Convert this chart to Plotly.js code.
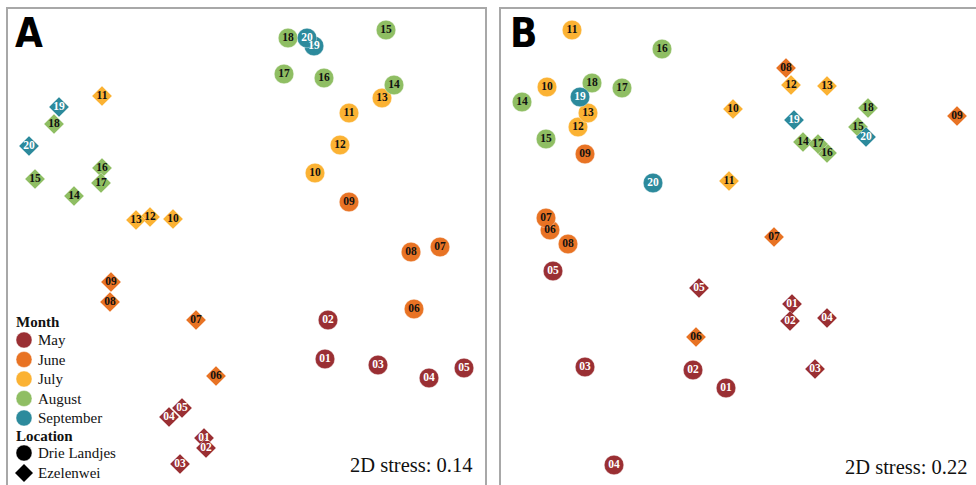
<!DOCTYPE html>
<html>
<head>
<meta charset="utf-8">
<script src="https://cdn.plot.ly/plotly-3.0.1.min.js"></script>
<style>html,body{margin:0;padding:0;background:#fff;}#chart{width:976px;height:485px;}</style>
</head>
<body>
<div id="chart"></div>
<script>
// ---- Data (NMDS ordination, arbitrary units) ----
const monthNames = ["May", "June", "July", "August", "September"];
const monthColors = ["#9a2f33", "#e87324", "#fbb233", "#8fbe63", "#2c8a9c"];
const labelColors = ["#ffffff", "#111111", "#111111", "#111111", "#ffffff"];
const locationNames = ["Drie Landjes", "Ezelenwei"];
const locationSymbols = ["circle", "diamond"];

const samples = ["01","02","03","04","05","06","07","08","09","10","11","12","13","14","15","16","17","18","19","20"];
const sampleMonth = [0,0,0,0,0,1,1,1,1,2,2,2,2,3,3,3,3,3,4,4];

// Panel A (2D stress 0.14)
const aDrieX = [325,328,378,429,464,414,440,411,349,315,349,340,382,394,386,324,284,288,314,307];
const aDrieY = [126,165,120,107,117,176,238,233,283,312,372,340,387,400,455,407,411,447,439,447];
const aEzelX = [204,206,180,169,182,216,196,110,111,173,102,150,136,74,35,102,101,54,59,29];
const aEzelY = [47,37,21,68,77,109,165,183,203,266,389,268,265,289,306,317,302,361,378,339];

// Panel B (2D stress 0.22)
const bDrieX = [726,693,585,614,553,550,546,568,585,547,572,578,588,522,546,662,622,592,580,653];
const bDrieY = [97,115,118,20,214,255,267,241,331,398,455,358,372,383,346,436,397,402,388,302];
const bEzelX = [792,790,815,827,699,696,774,786,957,733,729,791,827,803,858,827,818,868,794,866];
const bEzelY = [181,164,116,167,197,148,248,417,369,376,304,400,399,343,358,332,341,377,365,348];

const stressA = "2D stress: 0.14";
const stressB = "2D stress: 0.22";

// ---- Build ----
const W = 976, H = 485;
const serif = "Liberation Serif, Times New Roman, serif";
const ptColors = sampleMonth.map(m => monthColors[m]);
const txtColors = sampleMonth.map(m => labelColors[m]);

function pts(x, y, symbol, size, xa, ya) {
  return {
    type: "scatter", mode: "markers+text",
    x: x, y: y, text: samples,
    xaxis: xa, yaxis: ya, showlegend: false, hoverinfo: "skip",
    cliponaxis: false,
    marker: {symbol: symbol, size: size, color: ptColors, line: {width: 0.6, color: "rgba(255,255,255,0.6)"}},
    textposition: "middle center",
    textfont: {family: serif, size: 11.5, weight: "bold", color: txtColors}
  };
}

const traces = [
  pts(aDrieX, aDrieY, "circle", 19.5, "x", "y"),
  pts(aEzelX, aEzelY, "diamond", 15.5, "x", "y"),
  pts(bDrieX, bDrieY, "circle", 19.5, "x2", "y2"),
  pts(bEzelX, bEzelY, "diamond", 15.5, "x2", "y2")
];

const axBase = {showgrid: false, zeroline: false, showticklabels: false, ticks: "", showline: false, fixedrange: true};
const yTop = 1 - 8 / H;

// ---- Key (drawn as shapes + annotations, pixel layout converted to paper units) ----
const px = v => v / W;
const py = v => 1 - v / H;
const keyShapes = [];
const keyNotes = [];
const keySymX = 24, keyTextX = 36, keyTitleX = 14, keyR = 8;
const keyRows = [];
keyRows.push({title: "Month", y: 322});
monthNames.forEach((m, i) => keyRows.push({label: m, color: monthColors[i], symbol: "circle", y: 340 + i * 19.5}));
keyRows.push({title: "Location", y: 436});
locationNames.forEach((l, i) => keyRows.push({label: l, color: "#000", symbol: locationSymbols[i], y: 453 + i * 20}));

keyRows.forEach(r => {
  if (r.title) {
    keyNotes.push({xref: "paper", yref: "paper", x: px(keyTitleX), y: py(r.y), xanchor: "left", yanchor: "middle",
      text: "<b>" + r.title + "</b>", showarrow: false, font: {family: serif, size: 15, color: "#111"}});
  } else {
    if (r.symbol === "circle") {
      keyShapes.push({type: "circle", xref: "paper", yref: "paper",
        x0: px(keySymX - keyR), x1: px(keySymX + keyR), y0: py(r.y + keyR), y1: py(r.y - keyR),
        fillcolor: r.color, line: {width: 0.8, color: "rgba(255,255,255,0.5)"}});
    } else {
      const d = keyR + 1;
      keyShapes.push({type: "path", xref: "paper", yref: "paper",
        path: `M ${px(keySymX)} ${py(r.y - d)} L ${px(keySymX + d)} ${py(r.y)} L ${px(keySymX)} ${py(r.y + d)} L ${px(keySymX - d)} ${py(r.y)} Z`,
        fillcolor: r.color, line: {width: 0}});
    }
    keyNotes.push({xref: "paper", yref: "paper", x: px(keyTextX), y: py(r.y), xanchor: "left", yanchor: "middle",
      text: r.label, showarrow: false, font: {family: serif, size: 15, color: "#111"}});
  }
});

const layout = {
  width: W, height: H,
  margin: {l: 0, r: 0, t: 0, b: 0, autoexpand: false},
  paper_bgcolor: "#fff", plot_bgcolor: "rgba(0,0,0,0)",
  font: {family: serif, color: "#111"},
  xaxis: Object.assign({}, axBase, {domain: [7 / W, 486 / W], range: [7, 486]}),
  yaxis: Object.assign({}, axBase, {domain: [0, yTop], range: [0, 477]}),
  xaxis2: Object.assign({}, axBase, {domain: [500 / W, 1], range: [500, 976], anchor: "y2"}),
  yaxis2: Object.assign({}, axBase, {domain: [0, yTop], range: [0, 477], anchor: "x2"}),
  showlegend: false,
  shapes: [
    {type: "rect", xref: "paper", yref: "paper", x0: 7 / W, x1: 486 / W, y0: -0.1, y1: yTop, line: {color: "#a8a8a8", width: 2}, layer: "below"},
    {type: "rect", xref: "paper", yref: "paper", x0: 500 / W, x1: 1.1, y0: -0.1, y1: yTop, line: {color: "#a8a8a8", width: 2}, layer: "below"}
  ].concat(keyShapes),
  annotations: [
    {xref: "paper", yref: "paper", x: 29 / W, y: 1 - 33 / H, xanchor: "center", yanchor: "middle", text: "A", showarrow: false,
     font: {family: "Liberation Sans Narrow, DejaVu Sans Condensed, Arial Narrow, sans-serif", size: 40, weight: "bold", stretch: "condensed", color: "#000"}},
    {xref: "paper", yref: "paper", x: 523 / W, y: 1 - 33 / H, xanchor: "center", yanchor: "middle", text: "B", showarrow: false,
     font: {family: "Liberation Sans Narrow, DejaVu Sans Condensed, Arial Narrow, sans-serif", size: 40, weight: "bold", stretch: "condensed", color: "#000"}},
    {xref: "paper", yref: "paper", x: 474 / W, y: 1 - 465 / H, xanchor: "right", yanchor: "middle", text: stressA, showarrow: false,
     font: {family: serif, size: 20.5, color: "#111"}},
    {xref: "paper", yref: "paper", x: 969 / W, y: 1 - 467 / H, xanchor: "right", yanchor: "middle", text: stressB, showarrow: false,
     font: {family: serif, size: 20.5, color: "#111"}}
  ].concat(keyNotes)
};

Plotly.newPlot("chart", traces, layout, {displayModeBar: false, staticPlot: true});
</script>
</body>
</html>
